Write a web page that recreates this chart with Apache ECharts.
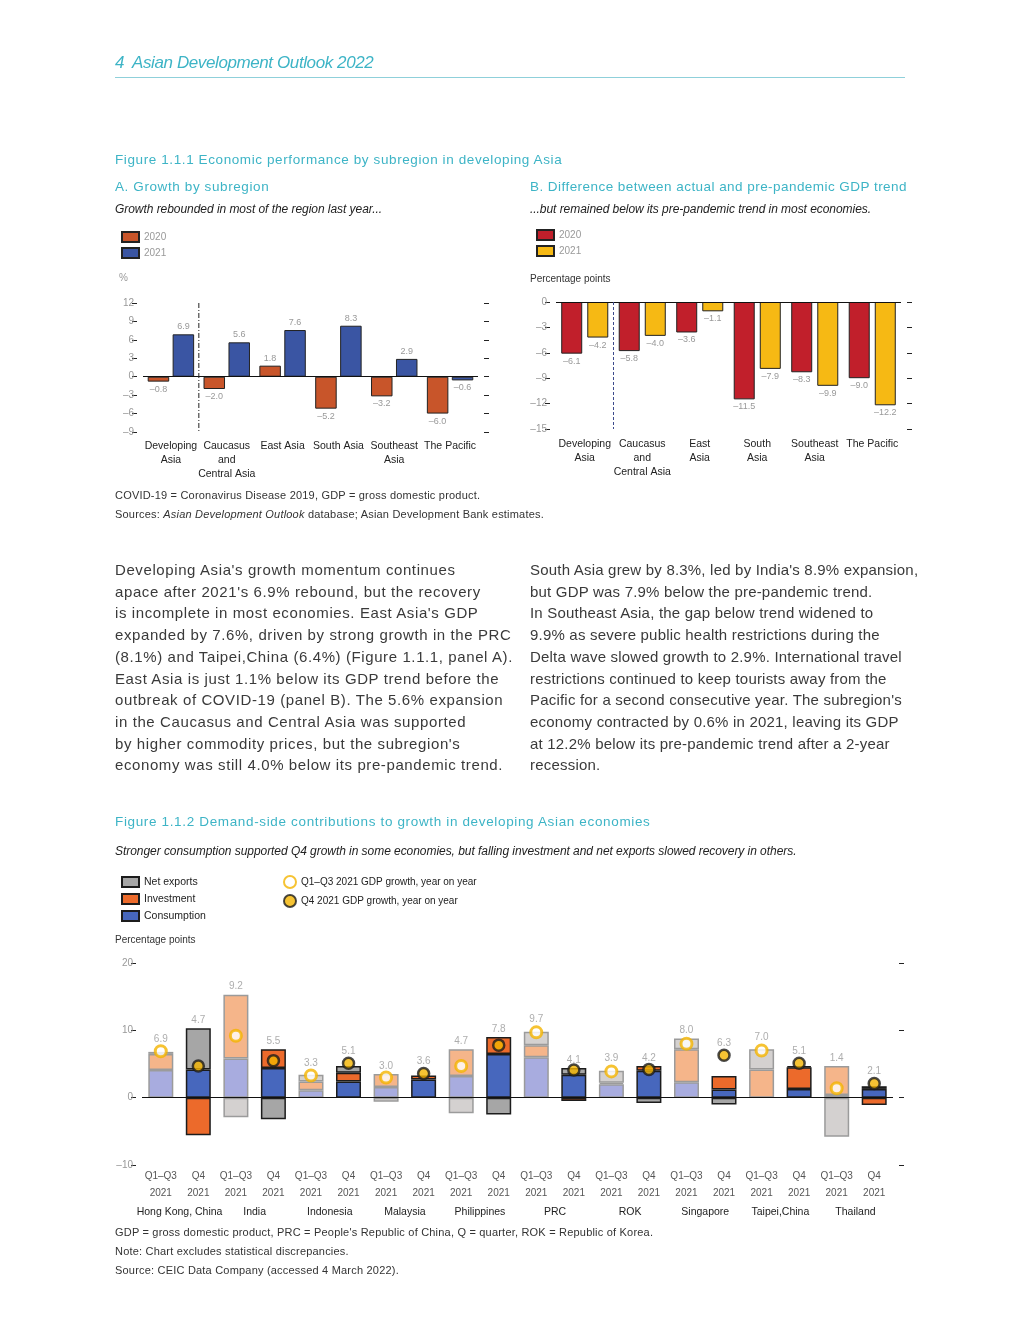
<!DOCTYPE html>
<html>
<head>
<meta charset="utf-8">
<script src="https://cdn.jsdelivr.net/npm/echarts@6/dist/echarts.min.js"></script>
<style>
  html, body { margin:0; padding:0; background:#fff; }
  #page { position:relative; width:1020px; height:1320px; font-family:"Liberation Sans", Arial, sans-serif; }
  #chart { position:absolute; left:0; top:0; width:1020px; height:1320px; }
  .t { position:absolute; white-space:pre; z-index:2; }
  .teal { color:#3db4c6; }
  .title { font-size:13.5px; line-height:16px; letter-spacing:0.6px; }
  .sub { font-size:12px; line-height:14px; font-style:italic; color:#222; letter-spacing:-0.05px; }
  .note { font-size:11px; line-height:14px; color:#333; letter-spacing:0.2px; }
  .body { font-size:15px; line-height:21.7px; color:#3a3a3a; letter-spacing:0.6px; }
  .unit { font-size:10px; line-height:12px; color:#333; }
</style>
</head>
<body>
<div id="page">
  <div id="chart"></div>

  <div class="t teal" style="left:115px;top:53px;font-size:17px;line-height:20px;font-style:italic;letter-spacing:-0.4px;">4  Asian Development Outlook 2022</div>
  <div class="t" style="left:115px;top:77px;width:790px;height:1px;background:#8fd0da;"></div>

  <div class="t teal title" style="left:115px;top:152px;">Figure 1.1.1 Economic performance by subregion in developing Asia</div>
  <div class="t teal title" style="left:115px;top:179px;">A. Growth by subregion</div>
  <div class="t teal title" style="left:530px;top:179px;letter-spacing:0.45px;">B. Difference between actual and pre-pandemic GDP trend</div>
  <div class="t sub" style="left:115px;top:202px;">Growth rebounded in most of the region last year...</div>
  <div class="t sub" style="left:530px;top:202px;">...but remained below its pre-pandemic trend in most economies.</div>
  <div class="t unit" style="left:119px;top:272px;color:#999;">%</div>
  <div class="t unit" style="left:530px;top:273px;">Percentage points</div>

  <div class="t note" style="left:115px;top:488px;">COVID-19 = Coronavirus Disease 2019, GDP = gross domestic product.</div>
  <div class="t note" style="left:115px;top:507px;">Sources: <i>Asian Development Outlook</i> database; Asian Development Bank estimates.</div>

  <div class="t body" style="left:115px;top:559px;">Developing Asia's growth momentum continues
apace after 2021's 6.9% rebound, but the recovery
is incomplete in most economies. East Asia's GDP
expanded by 7.6%, driven by strong growth in the PRC
(8.1%) and Taipei,China (6.4%) (Figure 1.1.1, panel A).
East Asia is just 1.1% below its GDP trend before the
outbreak of COVID-19 (panel B). The 5.6% expansion
in the Caucasus and Central Asia was supported
by higher commodity prices, but the subregion's
economy was still 4.0% below its pre-pandemic trend.</div>

  <div class="t body" style="left:530px;top:559px;letter-spacing:0.2px;">South Asia grew by 8.3%, led by India's 8.9% expansion,
but GDP was 7.9% below the pre-pandemic trend.
In Southeast Asia, the gap below trend widened to
9.9% as severe public health restrictions during the
Delta wave slowed growth to 2.9%. International travel
restrictions continued to keep tourists away from the
Pacific for a second consecutive year. The subregion's
economy contracted by 0.6% in 2021, leaving its GDP
at 12.2% below its pre-pandemic trend after a 2-year
recession.</div>

  <div class="t teal title" style="left:115px;top:814px;letter-spacing:0.65px;">Figure 1.1.2 Demand-side contributions to growth in developing Asian economies</div>
  <div class="t sub" style="left:115px;top:844px;">Stronger consumption supported Q4 growth in some economies, but falling investment and net exports slowed recovery in others.</div>
  <div class="t unit" style="left:115px;top:934px;">Percentage points</div>

  <div class="t note" style="left:115px;top:1225px;">GDP = gross domestic product, PRC = People's Republic of China, Q = quarter, ROK = Republic of Korea.</div>
  <div class="t note" style="left:115px;top:1244px;">Note: Chart excludes statistical discrepancies.</div>
  <div class="t note" style="left:115px;top:1263px;">Source: CEIC Data Company (accessed 4 March 2022).</div>
</div>

<script>
// ---------- Figure 1.1.1 data ----------
const subregionsA = ['Developing\nAsia', 'Caucasus\nand\nCentral Asia', 'East Asia', 'South Asia', 'Southeast\nAsia', 'The Pacific'];
const subregionsB = ['Developing\nAsia', 'Caucasus\nand\nCentral Asia', 'East\nAsia', 'South\nAsia', 'Southeast\nAsia', 'The Pacific'];
const growth2020 = [-0.8, -2.0, 1.8, -5.2, -3.2, -6.0];
const growth2021 = [6.9, 5.6, 7.6, 8.3, 2.9, -0.6];
const gap2020 = [-6.1, -5.8, -3.6, -11.5, -8.3, -9.0];
const gap2021 = [-4.2, -4.0, -1.1, -7.9, -9.9, -12.2];
const yTicksA = [-9, -6, -3, 0, 3, 6, 9, 12];
const yTicksB = [-15, -12, -9, -6, -3, 0];

// ---------- Figure 1.1.2 data ----------
const economies = ['Hong Kong, China', 'India', 'Indonesia', 'Malaysia', 'Philippines', 'PRC', 'ROK', 'Singapore', 'Taipei,China', 'Thailand'];
const periods = ['Q1–Q3\n2021', 'Q4\n2021'];
const consQ13 = [4.1, 5.8, 1.1, 1.6, 3.2, 6.0, 2.0, 2.3, 0.0, 0.4];
const invQ13  = [2.4, 9.5, 1.3, 1.9, 4.0, 1.8, 0.2, 4.9, 4.2, 4.3];
const nxQ13   = [0.3, -2.9, 1.0, -0.6, -2.3, 2.0, 1.8, 1.6, 3.0, -5.8];
const consQ4  = [4.2, 4.4, 2.4, 2.7, 6.5, 3.4, 4.0, 1.2, 1.3, 1.3];
const invQ4   = [-5.6, 2.8, 1.3, 0.6, 2.5, -0.5, 0.7, 2.0, 3.2, -1.1];
const nxQ4    = [6.1, -3.2, 1.0, 0.0, -2.5, 1.0, -0.8, -1.0, 0.2, 0.4];
const gdpQ13  = [6.9, 9.2, 3.3, 3.0, 4.7, 9.7, 3.9, 8.0, 7.0, 1.4];
const gdpQ4   = [4.7, 5.5, 5.1, 3.6, 7.8, 4.1, 4.2, 6.3, 5.1, 2.1];
const yTicksC = [-10, 0, 10, 20];

const legendQ13 = 'Q1–Q3 2021 GDP growth, year on year';
const legendQ4 = 'Q4 2021 GDP growth, year on year';

// ---------- helpers ----------
const FONT = '"Liberation Sans", Arial, sans-serif';
const fmtNeg = v => (v < 0 ? '–' : '') + Math.abs(v);
const fmt1 = v => (v < 0 ? '–' : '') + Math.abs(v).toFixed(1);
const signedLabel = arr => arr.map(v => ({ value: v, label: { position: v >= 0 ? 'top' : 'bottom' } }));
const nz = arr => arr.map(v => (v === 0 ? '-' : v));
const posSum = (...arrs) => arrs[0].map((_, i) => arrs.reduce((s, a) => s + (a[i] > 0 ? a[i] : 0), 0));

function yAxisPair(gridIndex, ticks) {
  const min = ticks[0], max = ticks[ticks.length - 1], interval = ticks[1] - ticks[0];
  const common = {
    type: 'value', gridIndex, min, max, interval,
    axisLine: { show: false },
    splitLine: { show: false },
    axisTick: { show: true, length: 5, lineStyle: { color: '#222', width: 1 } }
  };
  return [
    Object.assign({}, common, {
      position: 'left', offset: 6,
      axisLabel: { show: true, margin: 3, fontSize: 10, color: '#999', fontFamily: FONT, formatter: fmtNeg }
    }),
    Object.assign({}, common, {
      position: 'right', offset: 6,
      axisLabel: { show: false }
    })
  ];
}

const zeroLine = {
  silent: true, symbol: 'none', label: { show: false },
  lineStyle: { color: '#111', width: 1.2, type: 'solid' },
  data: [{ yAxis: 0 }]
};

function dividerSeries(xAxisIndex, yAxisIndex, ticks, color, dash) {
  const min = ticks[0], max = ticks[ticks.length - 1];
  return {
    type: 'custom', xAxisIndex, yAxisIndex, silent: true, z: 5,
    data: [[0, 0]],
    renderItem: function (params, api) {
      const p0 = api.coord([0, max]);
      const p1 = api.coord([1, min]);
      const x = (p0[0] + p1[0]) / 2;
      return {
        type: 'line',
        shape: { x1: x, y1: p0[1], x2: x, y2: p1[1] },
        style: { stroke: color, lineWidth: 1, lineDash: dash }
      };
    }
  };
}

// ---------- Fig 2 derived ----------
const topQ13 = posSum(consQ13, invQ13, nxQ13);
const topQ4 = posSum(consQ4, invQ4, nxQ4);
const dotsQ13 = gdpQ13.map((v, i) => [2 * i, v]);
const dotsQ4 = gdpQ4.map((v, i) => [2 * i + 1, v]);
const anchors = [];
gdpQ13.forEach((v, i) => {
  const top = topQ13[i];
  anchors.push({ value: [2 * i, Math.max(top, v)], txt: v, label: { distance: v >= top - 0.3 ? 7 : 3 } });
});
gdpQ4.forEach((v, i) => {
  const top = topQ4[i];
  anchors.push({ value: [2 * i + 1, Math.max(top, v)], txt: v, label: { distance: v >= top - 0.3 ? 7 : 3 } });
});
const subCats = [];
economies.forEach(() => { subCats.push(periods[0]); subCats.push(periods[1]); });

const lightBorder = { borderColor: '#9b9b9b', borderWidth: 1.5 };
const darkBorder = { borderColor: '#1c1c1c', borderWidth: 1.5 };

const chart = echarts.init(document.getElementById('chart'), null, { renderer: 'canvas' });

const yA = yAxisPair(0, yTicksA);
const yB = yAxisPair(1, yTicksB);
const yC = yAxisPair(2, yTicksC);

const option = {
  backgroundColor: '#fff',
  animation: false,
  textStyle: { fontFamily: FONT },
  grid: [
    { left: 143, top: 303, width: 335, height: 129 },
    { left: 556, top: 302, width: 345, height: 127 },
    { left: 142, top: 963, width: 751, height: 202 }
  ],
  legend: [
    {
      left: 116, top: 226, orient: 'vertical', itemWidth: 17, itemHeight: 10, itemGap: 4,
      icon: 'rect', data: ['A2020', 'A2021'], formatter: n => n.slice(1),
      textStyle: { fontSize: 10, color: '#999', fontFamily: FONT }, selectedMode: false
    },
    {
      left: 531, top: 224, orient: 'vertical', itemWidth: 17, itemHeight: 10, itemGap: 4,
      icon: 'rect', data: ['B2020', 'B2021'], formatter: n => n.slice(1),
      textStyle: { fontSize: 10, color: '#999', fontFamily: FONT }, selectedMode: false
    },
    {
      left: 116, top: 871, orient: 'vertical', itemWidth: 17, itemHeight: 10, itemGap: 5,
      icon: 'rect', data: ['Net exports', 'Investment', 'Consumption'],
      textStyle: { fontSize: 10.5, color: '#222', fontFamily: FONT }, selectedMode: false
    },
    {
      left: 278, top: 870, orient: 'vertical', itemWidth: 12, itemHeight: 12, itemGap: 5,
      icon: 'circle', data: [legendQ13, legendQ4],
      textStyle: { fontSize: 10, color: '#222', fontFamily: FONT }, selectedMode: false
    }
  ],
  xAxis: [
    {
      type: 'category', gridIndex: 0, data: subregionsA, position: 'bottom',
      axisLine: { show: false, onZero: false }, axisTick: { show: false },
      axisLabel: { margin: 7, fontSize: 10.5, lineHeight: 14, color: '#222', fontFamily: FONT, interval: 0 }
    },
    {
      type: 'category', gridIndex: 1, data: subregionsB, position: 'bottom',
      axisLine: { show: false, onZero: false }, axisTick: { show: false },
      axisLabel: { margin: 8, fontSize: 10.5, lineHeight: 14, color: '#222', fontFamily: FONT, interval: 0 }
    },
    {
      type: 'category', gridIndex: 2, data: economies, position: 'bottom',
      axisLine: { show: false, onZero: false }, axisTick: { show: false },
      axisLabel: { margin: 42, fontSize: 10.5, color: '#222', fontFamily: FONT, interval: 0 }
    },
    {
      type: 'category', gridIndex: 2, data: subCats, position: 'bottom',
      axisLine: { show: false, onZero: false }, axisTick: { show: false },
      axisLabel: { margin: 3, fontSize: 10, lineHeight: 17, color: '#555', fontFamily: FONT, interval: 0 }
    }
  ],
  yAxis: [yA[0], yA[1], yB[0], yB[1], yC[0], yC[1]],
  series: [
    // Panel A
    {
      name: 'A2020', type: 'bar', xAxisIndex: 0, yAxisIndex: 0,
      data: signedLabel(growth2020), barWidth: 21.5, barGap: '16%',
      itemStyle: { color: '#c8552a', borderColor: '#222', borderWidth: 1 },
      label: { show: true, fontSize: 9, color: '#999', distance: 3, formatter: p => fmt1(p.value) },
      markLine: zeroLine
    },
    {
      name: 'A2021', type: 'bar', xAxisIndex: 0, yAxisIndex: 0,
      data: signedLabel(growth2021), barWidth: 21.5, barGap: '16%',
      itemStyle: { color: '#3a55a3', borderColor: '#222', borderWidth: 1 },
      label: { show: true, fontSize: 9, color: '#999', distance: 3, formatter: p => fmt1(p.value) }
    },
    dividerSeries(0, 0, yTicksA, '#222', [5, 2, 1, 2]),
    // Panel B
    {
      name: 'B2020', type: 'bar', xAxisIndex: 1, yAxisIndex: 2,
      data: gap2020, barWidth: 21, barGap: '24%',
      itemStyle: { color: '#c11f2b', borderColor: '#222', borderWidth: 1 },
      label: { show: true, position: 'bottom', fontSize: 9, color: '#999', distance: 3, formatter: p => fmt1(p.value) },
      markLine: zeroLine
    },
    {
      name: 'B2021', type: 'bar', xAxisIndex: 1, yAxisIndex: 2,
      data: gap2021, barWidth: 21, barGap: '24%',
      itemStyle: { color: '#f6b914', borderColor: '#222', borderWidth: 1 },
      label: { show: true, position: 'bottom', fontSize: 9, color: '#999', distance: 3, formatter: p => fmt1(p.value) }
    },
    dividerSeries(1, 2, yTicksB, '#3c4a8c', [3, 2]),
    // Fig 2 bars, Q1–Q3 (light)
    {
      name: 'Consumption Q1–Q3', type: 'bar', stack: 'q13', xAxisIndex: 2, yAxisIndex: 4,
      data: nz(consQ13), barWidth: 25, barGap: '50%',
      itemStyle: Object.assign({ color: '#a8acdf' }, lightBorder),
      markLine: zeroLine
    },
    {
      name: 'Investment Q1–Q3', type: 'bar', stack: 'q13', xAxisIndex: 2, yAxisIndex: 4,
      data: nz(invQ13), barWidth: 25, barGap: '50%',
      itemStyle: Object.assign({ color: '#f5b58a' }, lightBorder)
    },
    {
      name: 'Net exports Q1–Q3', type: 'bar', stack: 'q13', xAxisIndex: 2, yAxisIndex: 4,
      data: nz(nxQ13), barWidth: 25, barGap: '50%',
      itemStyle: Object.assign({ color: '#d4d1d0' }, lightBorder)
    },
    // Fig 2 bars, Q4 (dark)
    {
      name: 'Consumption', type: 'bar', stack: 'q4', xAxisIndex: 2, yAxisIndex: 4,
      data: nz(consQ4), barWidth: 25, barGap: '50%',
      itemStyle: Object.assign({ color: '#4767bd' }, darkBorder)
    },
    {
      name: 'Investment', type: 'bar', stack: 'q4', xAxisIndex: 2, yAxisIndex: 4,
      data: nz(invQ4), barWidth: 25, barGap: '50%',
      itemStyle: Object.assign({ color: '#ec6a2b' }, darkBorder)
    },
    {
      name: 'Net exports', type: 'bar', stack: 'q4', xAxisIndex: 2, yAxisIndex: 4,
      data: nz(nxQ4), barWidth: 25, barGap: '50%',
      itemStyle: Object.assign({ color: '#a6a6a6' }, darkBorder)
    },
    // Fig 2 dots
    {
      name: legendQ13, type: 'scatter', xAxisIndex: 3, yAxisIndex: 4, z: 10,
      data: dotsQ13, symbol: 'circle', symbolSize: 11,
      itemStyle: { color: '#ffffff', borderColor: '#f4b400', borderWidth: 3 }
    },
    {
      name: legendQ4, type: 'scatter', xAxisIndex: 3, yAxisIndex: 4, z: 10,
      data: dotsQ4, symbol: 'circle', symbolSize: 11,
      itemStyle: { color: '#f4b400', borderColor: '#1c1c1c', borderWidth: 2.5 }
    },
    {
      name: 'labels', type: 'scatter', xAxisIndex: 3, yAxisIndex: 4, z: 11, silent: true,
      data: anchors, symbolSize: 0,
      label: { show: true, position: 'top', fontSize: 10, color: '#999', fontFamily: FONT,
        formatter: p => fmt1(p.data.txt) }
    }
  ]
};

chart.setOption(option);
</script>
</body>
</html>
